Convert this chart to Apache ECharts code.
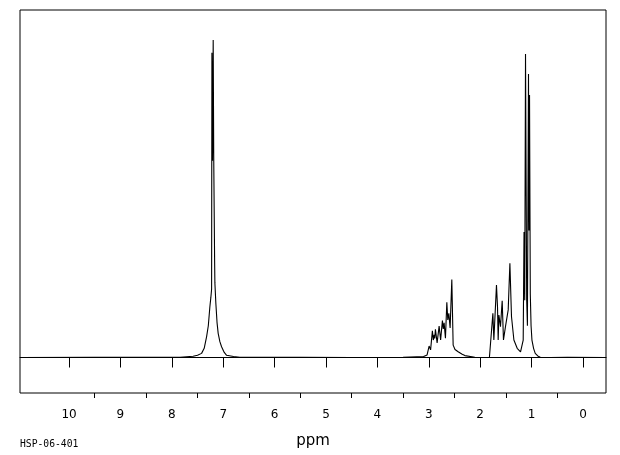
<!DOCTYPE html>
<html>
<head>
<meta charset="utf-8">
<script src="https://cdn.jsdelivr.net/npm/echarts@6/dist/echarts.min.js"></script>
<style>html,body{margin:0;padding:0;background:#fff}#c{width:620px;height:455px}</style>
</head>
<body>
<div id="c"></div>
<script>
// chemical shift (ppm) and intensity (baseline = 0, tallest line = 100)
const ppm = [
  10.95, 9.5, 8.5, 7.84, 7.585, 7.50, 7.421, 7.370, 7.324, 7.290, 7.260, 7.240, 7.226,
  7.220, 7.208, 7.195, 7.185, 7.175, 7.167, 7.162, 7.143, 7.12, 7.098, 7.065, 7.032,
  6.98, 6.934, 6.80, 6.675, 5.5, 4.5, 3.5, 3.10, 3.033,
  2.994, 2.965, 2.930, 2.912, 2.896, 2.884, 2.871, 2.838, 2.799, 2.770, 2.735, 2.718,
  2.702, 2.676, 2.649, 2.630, 2.610, 2.585, 2.552, 2.526, 2.49, 2.429, 2.35, 2.298,
  2.104, 1.909, 1.820, 1.792,
  1.753, 1.734, 1.683, 1.663, 1.650, 1.636, 1.605, 1.572, 1.547, 1.508, 1.480, 1.455,
  1.422, 1.391, 1.344, 1.280, 1.215, 1.192, 1.163, 1.147, 1.133, 1.118, 1.095, 1.081,
  1.060, 1.050, 1.040, 1.025, 1.010, 0.993, 0.960, 0.929, 0.88, 0.83, 0.64, 0.3, -0.45
];
const intensity = [
  0, 0.1, 0.1, 0.1, 0.4, 0.7, 1.3, 2.9, 6.5, 10, 15.9, 19, 21.5,
  96, 62, 100, 64, 63.5, 30, 23.5, 17, 11, 7.6, 5, 3.4,
  1.6, 0.7, 0.3, 0.1, 0.1, 0, 0.1, 0.3, 0.8,
  3.6, 2.4, 8.4, 5.5, 7.1, 6.0, 8.9, 4.6, 9.9, 5.5, 11.6, 9,
  10.9, 6.1, 17.4, 11.8, 13.9, 9.3, 24.6, 3.9, 2.5, 1.8, 1.0, 0.6,
  0.1, 0, 0.1, 0.3,
  13.9, 5.5, 22.8, 16.0, 5.5, 13.4, 9.7, 17.9, 5.5, 9.7, 10.2, 15,
  29.7, 12.9, 5.5, 2.9, 1.8, 2.2, 5.5, 39.5, 18, 95.6, 18, 10,
  89.3, 40, 82.7, 20, 10, 5.5, 2.8, 1.3, 0.5, 0.1, 0, 0.1, 0
];
const majorTicks = [0, 1, 2, 3, 4, 5, 6, 7, 8, 9, 10];
const minorTicks = [0.5, 1.5, 2.5, 3.5, 4.5, 5.5, 6.5, 7.5, 8.5, 9.5];
const axisTitle = 'ppm';
const spectrumId = 'HSP-06-401';

const points = ppm.map((p, i) => [p, intensity[i]]);

const chart = echarts.init(document.getElementById('c'), null, {renderer: 'canvas'});
chart.setOption({
  animation: false,
  backgroundColor: '#fff',
  grid: {left: 20, top: 10, right: 14, bottom: 62, show: true, borderColor: '#000', borderWidth: 1},
  xAxis: [{
    type: 'value', inverse: true, min: -0.448, max: 10.954,
    position: 'bottom',
    axisLine: {lineStyle: {color: '#000', width: 1}},
    axisTick: {show: true, length: 10, lineStyle: {color: '#000'}, customValues: majorTicks},
    axisLabel: {customValues: majorTicks, color: '#000', fontFamily: 'DejaVu Sans', fontSize: 12, margin: 16},
    splitLine: {show: false},
    name: axisTitle, nameLocation: 'middle', nameGap: 41,
    nameTextStyle: {color: '#000', fontFamily: 'DejaVu Sans', fontSize: 15}
  }, {
    type: 'value', inverse: true, min: -0.448, max: 10.954,
    position: 'bottom', offset: 0,
    axisLine: {show: false},
    axisTick: {show: true, length: 5, lineStyle: {color: '#000'}, customValues: minorTicks},
    axisLabel: {show: false},
    splitLine: {show: false}
  }],
  yAxis: {
    type: 'value', min: -11.18, max: 109.45, show: false,
    splitLine: {show: false}
  },
  graphic: [{
    type: 'text', left: 20, top: 439,
    style: {text: spectrumId, fill: '#000', font: '9.7px "DejaVu Sans Mono"'}
  }],
  series: [{
    type: 'line', xAxisIndex: 0, data: points, showSymbol: false, symbol: 'none',
    lineStyle: {color: '#000', width: 1.1}, clip: true
  }]
});
</script>
</body>
</html>
